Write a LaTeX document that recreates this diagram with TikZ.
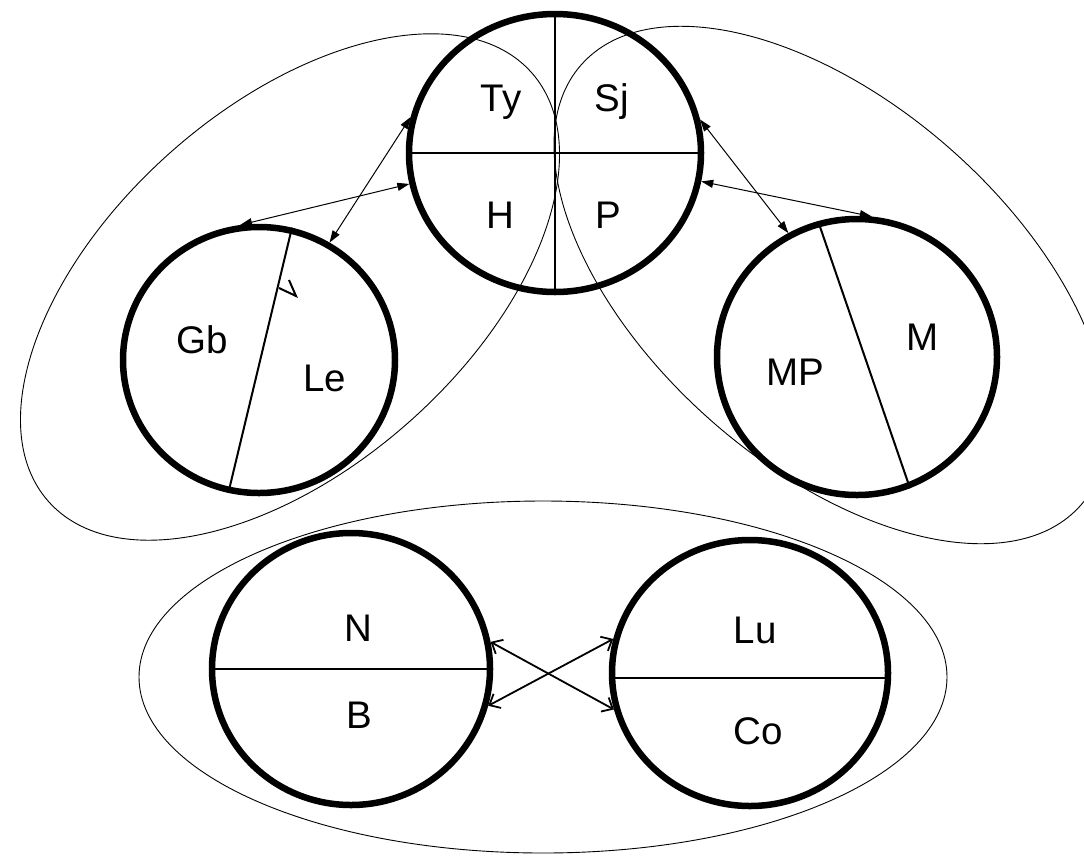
\documentclass[tikz,border=0pt]{standalone}
\usepackage{fontspec}
\setmainfont{Liberation Sans}
\usetikzlibrary{arrows.meta,shapes.geometric}
\begin{document}
\begin{tikzpicture}[x=1pt,y=-1pt,
  circ/.style={ellipse, draw, line width=6.5pt, inner sep=0pt},
  lab/.style={font=\fontsize{38.5}{46}\selectfont, inner sep=0pt, text height=27.6pt, text depth=0pt},
  divider/.style={line width=2pt},
  outline/.style={line width=0.9pt},
  link/.style={line width=1pt, {Triangle[length=12pt,width=8pt]}-{Triangle[length=12pt,width=8pt]}},
  blink/.style={line width=1.8pt, {Straight Barb[length=9pt,width=16pt]}-{Straight Barb[length=9pt,width=16pt]}}]
\useasboundingbox (0,0) rectangle (1084,855);
\clip (0,0) rectangle (1084,855);
% enclosing outlines
\draw[outline, rotate around={41.6:(290,287)}] (290,287) ellipse [x radius=323, y radius=180];
\draw[outline, rotate around={-41.4:(831,285)}] (831,285) ellipse [x radius=333, y radius=181];
\draw[outline] (543,677) ellipse [x radius=404, y radius=176];
% circles
\node[circ, minimum width=292pt, minimum height=278pt] (T) at (555,153) {};
\node[circ, minimum width=272pt, minimum height=266pt] (L) at (259,360) {};
\node[circ, minimum width=280pt, minimum height=276pt] (R) at (857,357) {};
\node[circ, minimum width=278pt, minimum height=272pt] (NB) at (351,669) {};
\node[circ, minimum width=276pt, minimum height=266pt] (LC) at (750,673) {};
% dividers
\draw[divider] (T.west) -- (T.east);
\draw[divider] (T.north) -- (T.south);
\draw[divider] (L.76) -- (L.257);
\draw[divider] (R.106) -- (R.292);
\draw[divider] (NB.west) -- (NB.east);
\draw[divider] (LC.182) -- (LC.358);
\draw[line width=2pt] (279,288) -- (296,296) -- (289,280);
% labels
\node[lab] (ty) at (501,98) {Ty};
\node[lab] (sj) at (612,98) {Sj};
\node[lab] (h) at (500,215) {H};
\node[lab] (p) at (608,215) {P};
\node[lab] (gb) at (202,340) {Gb};
\node[lab] (le) at (325,378) {Le};
\node[lab] (mp) at (795,372) {MP};
\node[lab] (m) at (923,337) {M};
\node[lab] (n) at (358,628) {N};
\node[lab] (b) at (359,715) {B};
\node[lab] (lu) at (755,630) {Lu};
\node[lab] (co) at (758,731) {Co};
% connectors
\draw[link] (T.166) -- (L.59);
\draw[link] (T.192) -- (L.98);
\draw[link] (T.13) -- (R.119);
\draw[link] (T.-11) -- (R.84);
\draw[blink] (NB.11) -- (LC.195);
\draw[blink] (NB.-15) -- (LC.166);
\end{tikzpicture}
\end{document}
